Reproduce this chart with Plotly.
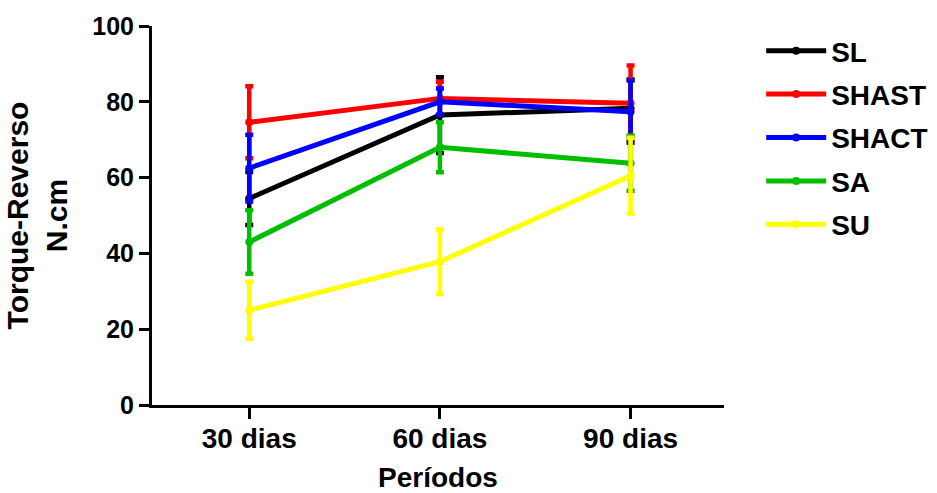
import plotly.graph_objects as go

periods = ["30 dias", "60 dias", "90 dias"]
series_names = ["SL", "SHAST", "SHACT", "SA", "SU"]
colors = ["#000000", "#ff0000", "#0000ff", "#00be00", "#ffff00"]

sl_mean = [54.5, 76.5, 78.3]
sl_err = [7.0, 10.0, 7.6]
shast_mean = [74.6, 80.9, 79.6]
shast_err = [9.5, 4.4, 10.0]
shact_mean = [62.5, 80.0, 77.4]
shact_err = [8.8, 3.5, 8.2]
sa_mean = [43.0, 68.0, 63.8]
sa_err = [8.4, 6.6, 7.3]
su_mean = [25.0, 37.8, 60.5]
su_err = [7.5, 8.5, 10.0]

means = [sl_mean, shast_mean, shact_mean, sa_mean, su_mean]
errs = [sl_err, shast_err, shact_err, sa_err, su_err]

FONT = "Arial"
fig = go.Figure()
xs = list(range(len(periods)))
for name, col, m, e in zip(series_names, colors, means, errs):
    fig.add_trace(go.Scatter(
        x=xs, y=m, name=name, mode="lines+markers",
        legendgroup=name,
        line=dict(color=col, width=5),
        marker=dict(color=col, size=8),
        error_y=dict(type="data", array=e, visible=True, color=col,
                     thickness=4.5, width=4),
    ))

fig.update_layout(
    width=937, height=493,
    margin=dict(l=152, r=213, t=26, b=88, autoexpand=False),
    plot_bgcolor="white", paper_bgcolor="white",
    font=dict(family=FONT, color="black", weight="bold"),
    showlegend=True,
    legend=dict(x=1.065, y=1.0, xanchor="left", yanchor="top",
                font=dict(size=28, family=FONT, weight="bold"),
                tracegroupgap=4, itemwidth=60, traceorder="grouped"),
    xaxis=dict(
        range=[-0.51, 2.49], tickmode="array", tickvals=xs, ticktext=periods,
        showgrid=False, zeroline=False, showline=True, linecolor="black",
        linewidth=3, ticks="outside", ticklen=11, tickwidth=3, tickcolor="black",
        ticklabelstandoff=-5,
        tickfont=dict(size=28, family=FONT, weight="bold"),
        title=dict(text="Períodos", font=dict(size=28, family=FONT, weight="bold"),
                   standoff=15),
    ),
    yaxis=dict(
        range=[0, 100], tickvals=[0, 20, 40, 60, 80, 100],
        showgrid=False, zeroline=False, showline=True, linecolor="black",
        linewidth=3, ticks="outside", ticklen=10, tickwidth=3, tickcolor="black",
        tickfont=dict(size=25, family=FONT, weight="bold"),
        title=dict(text="Torque-Reverso<br>N.cm",
                   font=dict(size=30, family=FONT, weight="bold"), standoff=16),
    ),
)

fig.write_html("out.html")
